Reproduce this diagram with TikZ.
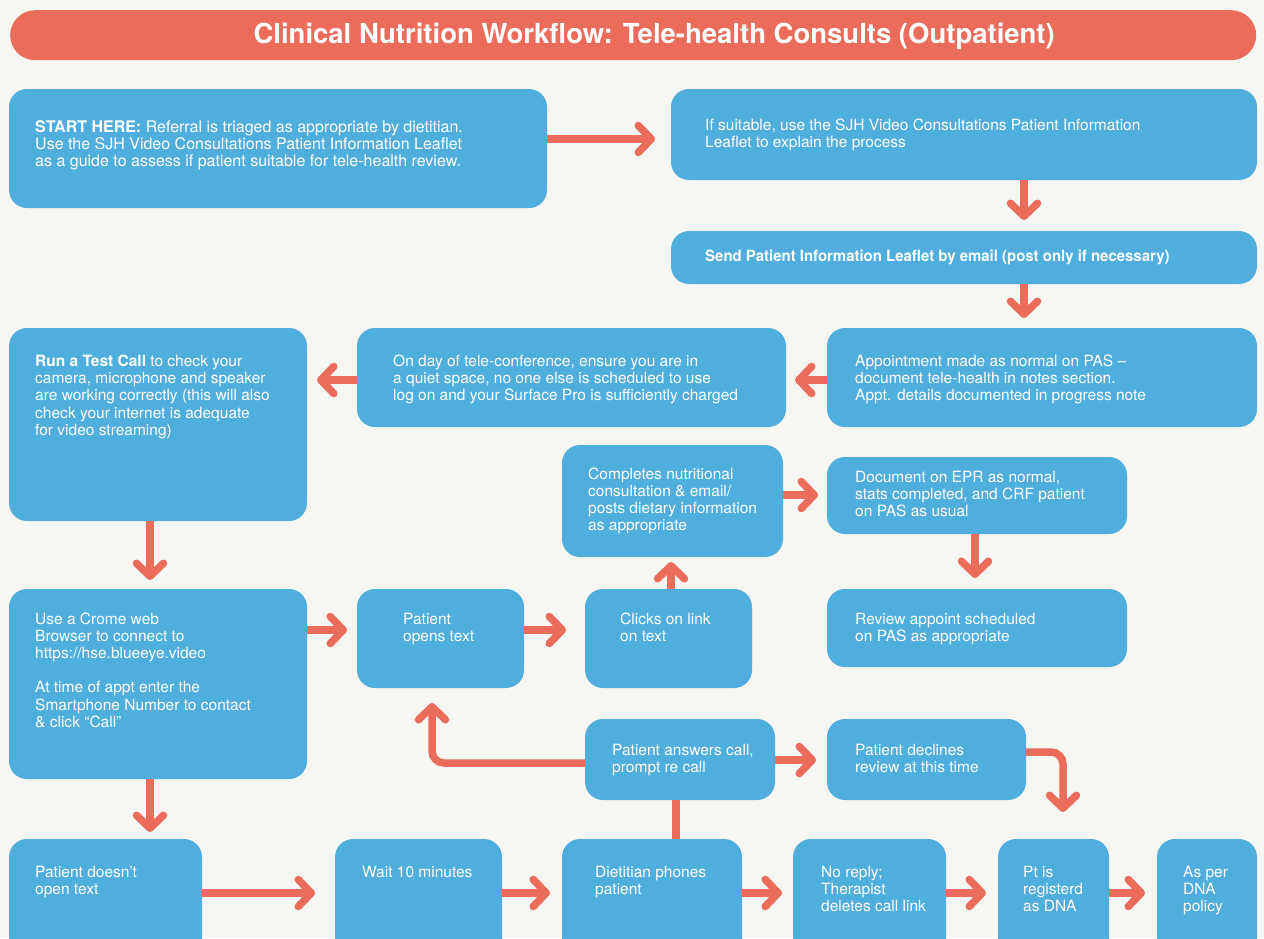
\documentclass[tikz,border=0pt]{standalone}
\usepackage{fontspec}
\setmainfont{TeX Gyre Heros}
\usetikzlibrary{arrows.meta}
\definecolor{nblue}{RGB}{79,174,222}
\definecolor{norange}{RGB}{235,108,90}
\definecolor{nbg}{RGB}{246,246,242}
\tikzset{
  box/.style={fill=nblue, rounded corners=18pt, draw=none, anchor=north west, inner sep=0pt, outer sep=0pt},
  txt/.style={text=white, anchor=base west, inner sep=0pt, font=\fontsize{15.5}{17.2}\selectfont},
  arr/.style={draw=norange, line width=7.5pt, -{Straight Barb[length=13pt, width=27pt, round]}},
  ln/.style={draw=norange, line width=7.5pt}
}
\newcommand{\bx}[5]{\node[box, minimum width=#4pt, minimum height=#5pt] (#1) at (#2,#3) {};}
\newcommand{\tl}[1]{\parbox[t]{460pt}{\raggedright #1}}
\begin{document}
\begin{tikzpicture}[x=1pt, y=-1pt]
\useasboundingbox (0,0) rectangle (1264,938);
\fill[nbg] (0,0) rectangle (1264,938);
\clip (0,0) rectangle (1264,938);
% title
\node[fill=norange, rounded corners=25pt, minimum width=1246pt, minimum height=50pt, inner sep=0pt, anchor=north west] (title) at (10,10) {};
\node[text=white, font=\bfseries\fontsize{27.5}{30}\selectfont, inner sep=0pt] (titletext) at ([xshift=21pt, yshift=-1.5pt]title.center) {Clinical Nutrition Workflow: Tele-health Consults (Outpatient)};
% boxes
\bx{start}{9}{89}{538}{119}
\bx{suit}{671}{89}{586}{91}
\bx{send}{671}{231}{586}{53}
\bx{appt}{827}{328}{430}{99}
\bx{day}{357}{328}{429}{99}
\bx{test}{9}{328}{298}{193}
\bx{comp}{562}{445}{221}{112}
\bx{doc}{827}{457}{300}{77}
\bx{rev}{827}{589}{300}{78}
\bx{crome}{9}{589}{298}{190}
\bx{opens}{357}{589}{167}{99}
\bx{clicks}{585}{589}{167}{99}
\bx{ans}{585}{719}{190}{81}
\bx{decl}{827}{719}{199}{81}
\bx{doesnt}{9}{839}{193}{121}
\bx{wait}{335}{839}{167}{121}
\bx{diet}{562}{839}{180}{121}
\bx{noreply}{793}{839}{153}{121}
\bx{dna}{998}{839}{111}{121}
\bx{policy}{1157}{839}{100}{121}
% texts
\node[txt, font=\fontsize{16}{17.2}\selectfont] (tstart) at (35,132.5) {\tl{\textbf{START HERE:} Referral is triaged as appropriate by dietitian.\\Use the SJH Video Consultations Patient Information Leaflet\\as a guide to assess if patient suitable for tele-health review.}};
\node[txt] (tsuit) at (705,130.5) {\tl{If suitable, use the SJH Video Consultations Patient Information\\Leaflet to explain the process}};
\node[txt] (tsend) at (705,261.5) {\scalebox{0.965}[1]{\bfseries Send Patient Information Leaflet by email (post only if necessary)}};
\node[txt] (tappt) at (855,366.5) {\tl{Appointment made as normal on PAS --\\document tele-health in notes section.\\Appt. details documented in progress note}};
\node[txt] (tday) at (393,366.5) {\tl{On day of tele-conference, ensure you are in\\a quiet space, no one else is scheduled to use\\log on and your Surface Pro is sufficiently charged}};
\node[txt] (ttest) at (35,366.5) {\tl{\textbf{Run a Test Call} to check your\\camera, microphone and speaker\\are working correctly (this will also\\check your internet is adequate\\for video streaming)}};
\node[txt] (tcomp) at (588,479) {\tl{Completes nutritional\\consultation \& email/\\posts dietary information\\as appropriate}};
\node[txt] (tdoc) at (855,482.5) {\tl{Document on EPR as normal,\\stats completed, and CRF patient\\on PAS as usual}};
\node[txt] (trev) at (855,624) {\tl{Review appoint scheduled\\on PAS as appropriate}};
\node[txt] (tcrome) at (35,624) {\tl{Use a Crome web\\Browser to connect to\\https://hse.blueeye.video\\[17.2pt]At time of appt enter the\\Smartphone Number to contact\\\& click “Call”}};
\node[txt] (topens) at (403,624) {\tl{Patient\\opens text}};
\node[txt] (tclicks) at (620,624) {\tl{Clicks on link\\on text}};
\node[txt] (tans) at (612,755) {\tl{Patient answers call,\\prompt re call}};
\node[txt] (tdecl) at (855,755) {\tl{Patient declines\\review at this time}};
\node[txt] (tdoesnt) at (35,877) {\tl{Patient doesn’t\\open text}};
\node[txt] (twait) at (362,877) {\tl{Wait 10 minutes}};
\node[txt] (tdiet) at (595,877) {\tl{Dietitian phones\\patient}};
\node[txt] (tnoreply) at (821,877) {\tl{No reply;\\Therapist\\deletes call link}};
\node[txt] (tdna) at (1023,877) {\tl{Pt is\\registerd\\as DNA}};
\node[txt] (tpolicy) at (1183,877) {\tl{As per\\DNA\\policy}};
% connectors
\draw[arr] ([yshift=9.5pt]start.east) -- ([xshift=-16pt, yshift=-4.5pt]suit.west);
\draw[arr] ([xshift=60pt]suit.south) -- ([xshift=60pt, yshift=11pt]send.north);
\draw[arr] ([xshift=60pt]send.south) -- ([xshift=-18pt, yshift=10pt]appt.north);
\draw[arr] ([yshift=-2.5pt]appt.west) -- ([xshift=9pt, yshift=-2.5pt]day.east);
\draw[arr] ([yshift=-2.5pt]day.west) -- ([xshift=10pt, yshift=44.5pt]test.east);
\draw[arr] ([xshift=-8pt]test.south) -- ([xshift=-8pt, yshift=9pt]crome.north);
\draw[arr] ([yshift=54pt]crome.east) -- ([xshift=-10pt, yshift=8.5pt]opens.west);
\draw[arr] ([yshift=8.5pt]opens.east) -- ([xshift=-19pt, yshift=8.5pt]clicks.west);
\draw[arr] ([xshift=2.5pt]clicks.north) -- ([xshift=-1.5pt, yshift=-5pt]comp.south);
\draw[arr] ([yshift=6pt]comp.east) -- ([xshift=-9pt, yshift=0.5pt]doc.west);
\draw[arr] ([xshift=-2pt]doc.south) -- ([xshift=-2pt, yshift=11pt]rev.north);
\draw[arr] ([xshift=-8pt]crome.south) -- ([xshift=44.5pt, yshift=7pt]doesnt.north);
\draw[arr, rounded corners=12pt] ([yshift=-3.5pt]ans.west) -| ([xshift=-8.5pt, yshift=-15pt]opens.south);
\draw[arr] ([yshift=-0.5pt]ans.east) -- ([xshift=-11pt, yshift=-0.5pt]decl.west);
\draw[arr, rounded corners=12pt] ([yshift=7.5pt]decl.east) -| ([xshift=9.5pt, yshift=27pt]dna.north);
\draw[ln] ([xshift=24pt]diet.north) -- ([xshift=-4pt]ans.south);
\draw[arr] ([yshift=6.5pt]doesnt.east) -- ([xshift=-20pt, yshift=6.5pt]wait.west);
\draw[arr] ([yshift=6.5pt]wait.east) -- ([xshift=-12pt, yshift=6.5pt]diet.west);
\draw[arr] ([yshift=6.5pt]diet.east) -- ([xshift=-11pt, yshift=6.5pt]noreply.west);
\draw[arr] ([yshift=6.5pt]noreply.east) -- ([xshift=-12pt, yshift=6.5pt]dna.west);
\draw[arr] ([yshift=6.5pt]dna.east) -- ([xshift=-12pt, yshift=6.5pt]policy.west);
\end{tikzpicture}
\end{document}
